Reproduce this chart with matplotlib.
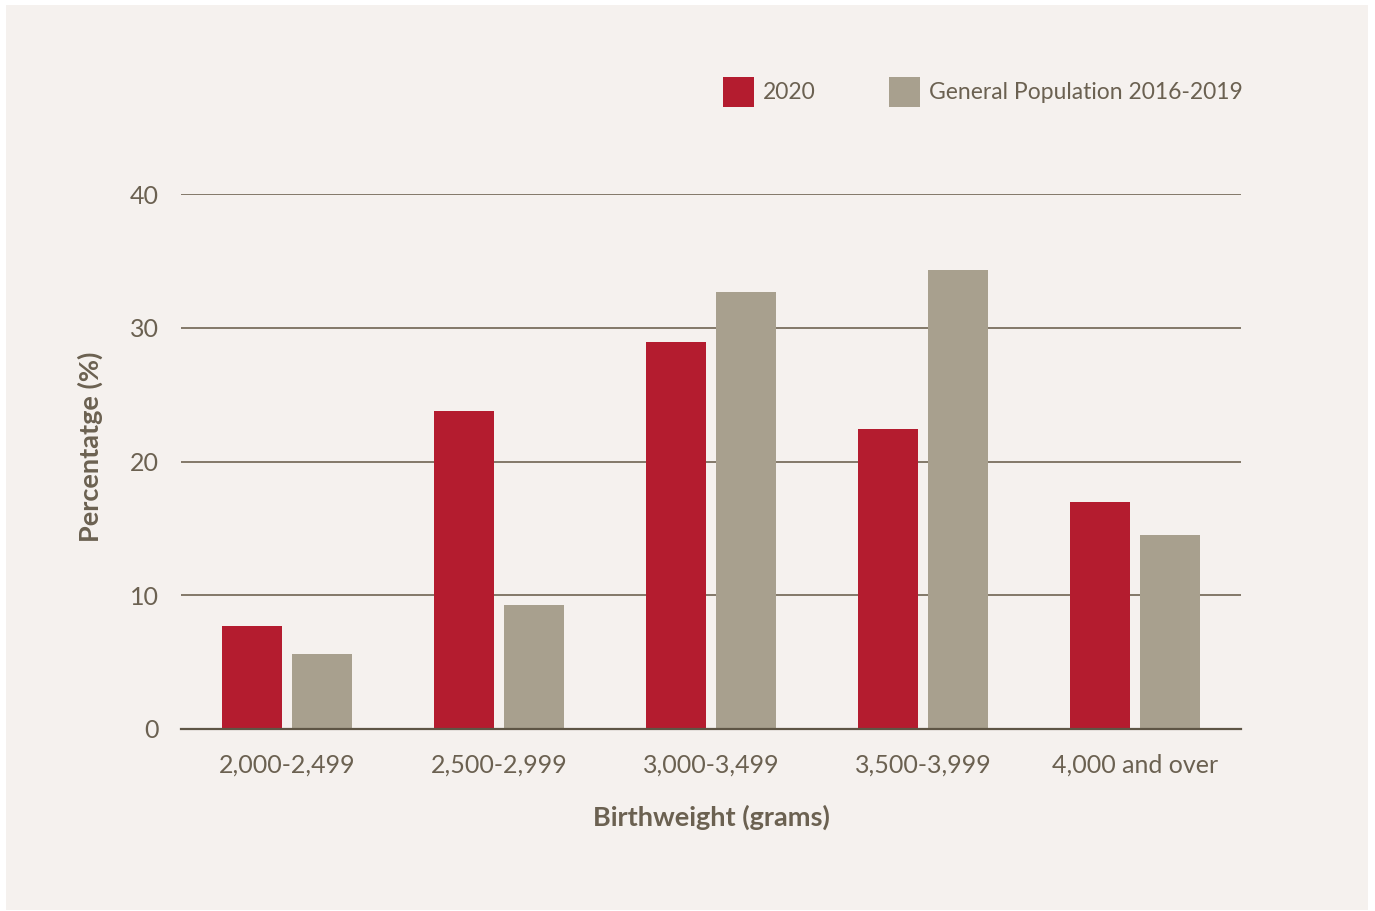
import matplotlib
matplotlib.use("Agg")
import matplotlib.pyplot as plt
from matplotlib.patches import Rectangle
import numpy as np

plt.rcParams['font.family'] = ['Lato', 'DejaVu Sans']

# data
categories = ['2,000-2,499', '2,500-2,999', '3,000-3,499', '3,500-3,999', '4,000 and over']
pct_2020 = [7.7, 23.8, 28.9, 22.4, 17.0]
pct_general = [5.6, 9.3, 32.7, 34.3, 14.5]
series_names = ['2020', 'General Population 2016-2019']

red = '#b41c2f'
grey = '#a8a08e'
txt = '#6b6151'
line = '#7a6f5e'
panel = '#f5f1ee'

fig = plt.figure(figsize=(13.75, 9.11), dpi=100)
fig.patch.set_facecolor('white')
fig.patches.append(Rectangle((6/1375, 1-910/911), (1368-6)/1375, (910-5)/911,
                             transform=fig.transFigure, facecolor=panel, edgecolor='none', zorder=-5))

ax = fig.add_axes([181/1375, 1-729/911, (1241-181)/1375, (729-194)/911])
ax.set_facecolor('none')
ax.set_zorder(2)

x = np.arange(len(categories))
w = 0.283
off = 0.167
b1 = ax.bar(x - off, pct_2020, w, color=red, label=series_names[0], zorder=3)
b2 = ax.bar(x + off, pct_general, w, color=grey, label=series_names[1], zorder=3)

ax.set_xlim(-0.5, 4.5)
ax.set_ylim(0, 40)
ax.set_yticks([0, 10, 20, 30, 40])
ax.yaxis.grid(True, color=line, linewidth=1.3, zorder=1)
ax.set_axisbelow(True)
for s in ['top', 'right', 'left']:
    ax.spines[s].set_visible(False)
ax.spines['bottom'].set_color('#5e5545')
ax.spines['bottom'].set_linewidth(1.6)
ax.spines['bottom'].set_zorder(4)

ax.set_xticks(x)
ax.set_xticklabels(categories)
ax.tick_params(axis='both', length=0, labelsize=18, labelcolor=txt)
ax.tick_params(axis='y', pad=16)
ax.tick_params(axis='x', pad=18)

ax.set_xlabel('Birthweight (grams)', fontsize=19.5, fontweight='bold', color=txt, labelpad=20)
ax.set_ylabel('Percentatge (%)', fontsize=19.5, fontweight='bold', color=txt)
# label sits a bit above the middle of the axis, as in the original
ax.yaxis.set_label_coords(-0.074, 0.527)

fig.legend(handles=[b1, b2], labels=series_names, loc='center right',
           bbox_to_anchor=(1243/1375, 1-92/911), ncol=2, frameon=False,
           fontsize=16.5, labelcolor=txt, handlelength=1.35, handleheight=1.7,
           handletextpad=0.4, columnspacing=3.2, borderpad=0, borderaxespad=0)

fig.savefig('out.png', dpi=100, facecolor=fig.get_facecolor())
